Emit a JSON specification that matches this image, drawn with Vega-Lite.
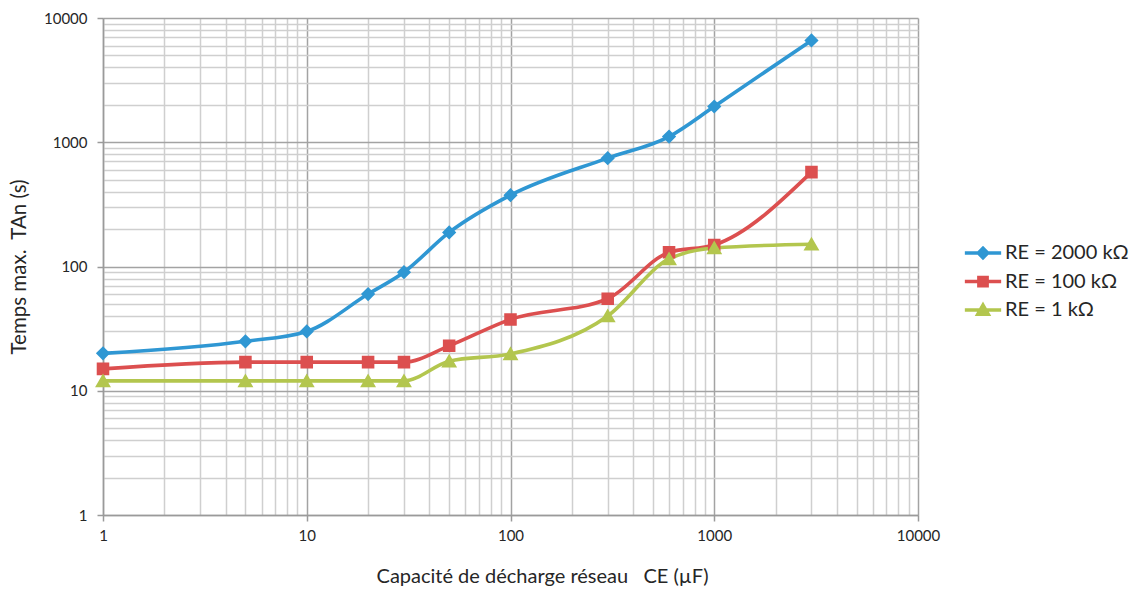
{
  "$schema": "https://vega.github.io/schema/vega-lite/v6.json",
  "width": 815,
  "height": 497,
  "autosize": {"type": "none"},
  "padding": {"left": 103, "top": 18, "right": 226, "bottom": 77},
  "background": "white",
  "config": {
    "font": "Lato",
    "view": {"stroke": null},
    "axis": {
      "labelFont": "Lato",
      "titleFont": "Lato",
      "labelColor": "#262626",
      "titleColor": "#262626",
      "domainColor": "#9a9a9a",
      "domainWidth": 1.5
    }
  },
  "data": {
    "values": [
      {"C": 1, "T": 20, "serie": "RE = 2000 kΩ"},
      {"C": 5, "T": 25, "serie": "RE = 2000 kΩ"},
      {"C": 10, "T": 30, "serie": "RE = 2000 kΩ"},
      {"C": 20, "T": 60, "serie": "RE = 2000 kΩ"},
      {"C": 30, "T": 90, "serie": "RE = 2000 kΩ"},
      {"C": 50, "T": 188, "serie": "RE = 2000 kΩ"},
      {"C": 100, "T": 375, "serie": "RE = 2000 kΩ"},
      {"C": 300, "T": 745, "serie": "RE = 2000 kΩ"},
      {"C": 600, "T": 1110, "serie": "RE = 2000 kΩ"},
      {"C": 1000, "T": 1940, "serie": "RE = 2000 kΩ"},
      {"C": 3000, "T": 6600, "serie": "RE = 2000 kΩ"},
      {"C": 1, "T": 15, "serie": "RE = 100 kΩ"},
      {"C": 5, "T": 17, "serie": "RE = 100 kΩ"},
      {"C": 10, "T": 17, "serie": "RE = 100 kΩ"},
      {"C": 20, "T": 17, "serie": "RE = 100 kΩ"},
      {"C": 30, "T": 17, "serie": "RE = 100 kΩ"},
      {"C": 50, "T": 23, "serie": "RE = 100 kΩ"},
      {"C": 100, "T": 37.5, "serie": "RE = 100 kΩ"},
      {"C": 300, "T": 55, "serie": "RE = 100 kΩ"},
      {"C": 600, "T": 130, "serie": "RE = 100 kΩ"},
      {"C": 1000, "T": 149, "serie": "RE = 100 kΩ"},
      {"C": 3000, "T": 575, "serie": "RE = 100 kΩ"},
      {"C": 1, "T": 12, "serie": "RE = 1 kΩ"},
      {"C": 5, "T": 12, "serie": "RE = 1 kΩ"},
      {"C": 10, "T": 12, "serie": "RE = 1 kΩ"},
      {"C": 20, "T": 12, "serie": "RE = 1 kΩ"},
      {"C": 30, "T": 12, "serie": "RE = 1 kΩ"},
      {"C": 50, "T": 17.3, "serie": "RE = 1 kΩ"},
      {"C": 100, "T": 19.8, "serie": "RE = 1 kΩ"},
      {"C": 300, "T": 40, "serie": "RE = 1 kΩ"},
      {"C": 600, "T": 115, "serie": "RE = 1 kΩ"},
      {"C": 1000, "T": 141, "serie": "RE = 1 kΩ"},
      {"C": 3000, "T": 151, "serie": "RE = 1 kΩ"}
    ]
  },
  "encoding": {
    "x": {
      "field": "C",
      "type": "quantitative",
      "scale": {"type": "log", "domain": [1, 10000], "nice": false},
      "axis": {
        "title": "Capacité de décharge réseau \u00a0 CE (µF)",
        "titleFontSize": 20,
        "titleFontWeight": "normal",
        "titlePadding": 23,
        "titleX": 439,
        "labelFontSize": 15,
        "labelPadding": 7,
        "labelFlush": false,
        "labelOverlap": false,
        "labelBound": false,
        "values": [1,2,3,4,5,6,7,8,9,10,20,30,40,50,60,70,80,90,100,200,300,400,500,600,700,800,900,1000,2000,3000,4000,5000,6000,7000,8000,9000,10000],
        "labelExpr": "indexof([1,10,100,1000,10000], datum.value) >= 0 ? format(datum.value, 'd') : ''",
        "grid": true,
        "gridColor": {"condition": {"test": "indexof([1,10,100,1000,10000], datum.value) >= 0", "value": "#a3a3a3"}, "value": "#cfcfcf"},
        "gridWidth": 1.5,
        "tickColor": {"condition": {"test": "indexof([1,10,100,1000,10000], datum.value) >= 0", "value": "#9a9a9a"}, "value": "transparent"},
        "tickSize": 6,
        "tickWidth": 1.5
      }
    },
    "y": {
      "field": "T",
      "type": "quantitative",
      "scale": {"type": "log", "domain": [1, 10000], "nice": false},
      "axis": {
        "title": "Temps max. \u00a0TAn (s)",
        "titleFontSize": 20.5,
        "titleFontWeight": "normal",
        "titlePadding": 14,
        "labelFontSize": 15,
        "labelPadding": 10,
        "labelOverlap": false,
        "labelBound": false,
        "values": [1,2,3,4,5,6,7,8,9,10,20,30,40,50,60,70,80,90,100,200,300,400,500,600,700,800,900,1000,2000,3000,4000,5000,6000,7000,8000,9000,10000],
        "labelExpr": "indexof([1,10,100,1000,10000], datum.value) >= 0 ? format(datum.value, 'd') : ''",
        "grid": true,
        "gridColor": {"condition": {"test": "indexof([1,10,100,1000,10000], datum.value) >= 0", "value": "#a3a3a3"}, "value": "#cfcfcf"},
        "gridWidth": 1.5,
        "tickColor": {"condition": {"test": "indexof([1,10,100,1000,10000], datum.value) >= 0", "value": "#9a9a9a"}, "value": "transparent"},
        "tickSize": 6,
        "tickWidth": 1.5
      }
    },
    "color": {
      "field": "serie",
      "type": "nominal",
      "scale": {
        "domain": ["RE = 2000 kΩ", "RE = 100 kΩ", "RE = 1 kΩ"],
        "range": ["#2f97d3", "#dc4f4f", "#b3c64e"]
      },
      "legend": {
        "title": null,
        "orient": "none",
        "legendX": 870,
        "legendY": 225,
        "padding": 0,
        "labelFont": "Lato",
        "labelFontSize": 20,
        "labelColor": "#262626",
        "labelOffset": 12,
        "rowPadding": 4.5,
        "symbolSize": 121,
        "symbolStrokeWidth": 3.5,
        "symbolOpacity": 1
      }
    }
  },
  "layer": [
    {
      "mark": {"type": "line", "interpolate": "monotone", "strokeWidth": 3.6},
      "encoding": {"detail": {"field": "serie"}}
    },
    {
      "mark": {"type": "point", "filled": true, "opacity": 1, "size": 280},
      "encoding": {
        "shape": {
          "field": "serie",
          "type": "nominal",
          "scale": {
            "domain": ["RE = 2000 kΩ", "RE = 100 kΩ", "RE = 1 kΩ"],
            "range": [
              "M-3.3,0H3.3M0,-0.85L0.85,0L0,0.85L-0.85,0Z",
              "M-3.3,0H3.3M-0.75,-0.75H0.75V0.75H-0.75Z",
              "M-3.3,0H3.3M0,-0.9L0.95,0.75H-0.95Z"
            ]
          },
          "legend": null
        }
      }
    }
  ]
}
